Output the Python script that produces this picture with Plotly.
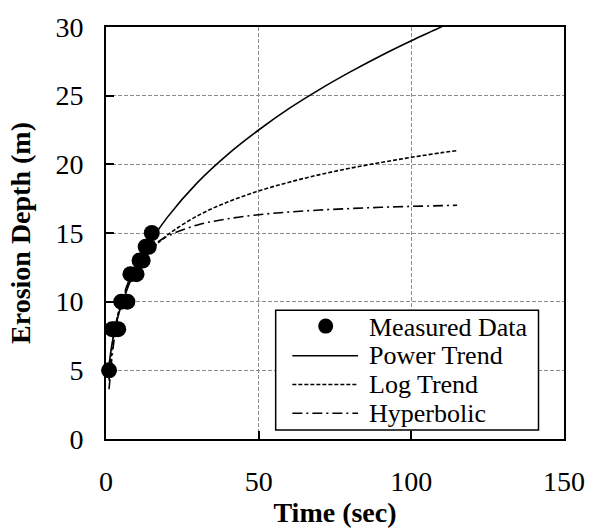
import plotly.graph_objects as go

# Measured data
meas_t = [1, 2, 3, 4, 5, 7, 8, 10, 11, 12, 13, 14, 15]
meas_d = [5, 8, 8, 8, 10, 10, 12, 12, 13, 13, 14, 14, 15]

# Trend lines
trend_t = [1, 2, 3, 5, 10, 15, 20, 30, 40, 50, 60, 70, 80, 90, 100, 110, 115]
power_d = [5.4, 6.96, 8.06, 9.72, 12.51, 14.51, 16.12, 18.69, 20.75, 22.5, 24.07,
           25.46, 26.73, 27.91, 29.0, 30.03, 30.6]
log_d = [4.25, 6.70, 8.13, 9.93, 12.38, 13.81, 14.83, 16.26, 17.27, 18.06, 18.70,
         19.25, 19.72, 20.13, 20.51, 20.85, 21.0]
hyp_d = [3.62, 6.01, 7.69, 9.93, 12.69, 13.99, 14.75, 15.59, 16.04, 16.33, 16.53,
         16.67, 16.78, 16.87, 16.94, 16.99, 17.02]

x_ticks = [0, 50, 100, 150]
y_ticks = [0, 5, 10, 15, 20, 25, 30]

names = ["Measured Data", "Power Trend", "Log Trend", "Hyperbolic"]
dashes = [None, "solid", "4px,2px", "10px,4px,2px,4px"]

FONT = "Liberation Serif, Times New Roman, serif"

fig = go.Figure()
fig.add_trace(go.Scatter(x=trend_t, y=power_d, mode="lines", name=names[1],
                         line=dict(color="black", width=1.6, dash=dashes[1], shape="spline"),
                         showlegend=False))
fig.add_trace(go.Scatter(x=trend_t, y=log_d, mode="lines", name=names[2],
                         line=dict(color="black", width=1.6, dash=dashes[2], shape="spline"),
                         showlegend=False))
fig.add_trace(go.Scatter(x=trend_t, y=hyp_d, mode="lines", name=names[3],
                         line=dict(color="black", width=1.6, dash=dashes[3], shape="spline"),
                         showlegend=False))
fig.add_trace(go.Scatter(x=meas_t, y=meas_d, mode="markers", name=names[0],
                         marker=dict(color="black", size=16, symbol="circle"),
                         showlegend=False, cliponaxis=False))

# Custom legend (layout elements in paper coordinates)
L, T, R, B = 106, 23, 24, 90
W, H = 597 - L - R, 529 - T - B


def px(xp):
    return (xp - L) / W


def py(yp):
    return (T + H - yp) / H


shapes = [dict(type="rect", xref="paper", yref="paper",
               x0=px(279), x1=px(547), y0=py(430), y1=py(309),
               line=dict(color="black", width=1.5), fillcolor="white", layer="above")]
annotations = []
rows = [326, 355, 384, 413]
for i, (nm, ry) in enumerate(zip(names, rows)):
    if i == 0:
        shapes.append(dict(type="circle", xref="paper", yref="paper",
                           xsizemode="pixel", ysizemode="pixel",
                           xanchor=px(330), yanchor=py(ry - 1),
                           x0=-7.5, x1=7.5, y0=-7.5, y1=7.5,
                           fillcolor="black", line=dict(color="black", width=0), layer="above"))
    else:
        shapes.append(dict(type="line", xref="paper", yref="paper",
                           x0=px(296), x1=px(363), y0=py(ry), y1=py(ry),
                           line=dict(color="black", width=1.6, dash=dashes[i]), layer="above"))
    annotations.append(dict(text=nm, xref="paper", yref="paper", x=px(372), y=py(ry),
                            xanchor="left", yanchor="middle", showarrow=False,
                            font=dict(family=FONT, size=26, color="black")))

fig.update_layout(
    width=597, height=529,
    margin=dict(l=L, r=R, t=T, b=B),
    paper_bgcolor="white", plot_bgcolor="white",
    font=dict(family=FONT, size=28, color="black"),
    shapes=shapes, annotations=annotations,
    showlegend=False,
)
axis_common = dict(
    showline=True, linecolor="black", linewidth=2, mirror=True,
    showgrid=True, gridcolor="#8c8c8c", gridwidth=1.4, griddash="4px,2px",
    zeroline=False, ticks="inside", ticklen=8, tickwidth=2, tickcolor="black",
    tickfont=dict(family=FONT, size=28, color="black"),
)
fig.update_xaxes(range=[0, 150], tickvals=x_ticks, ticktext=[str(v) for v in x_ticks],
                 ticklabelstandoff=16,
                 title=dict(text="<b>Time (sec)</b>", font=dict(family=FONT, size=28), standoff=0),
                 **axis_common)
fig.update_yaxes(range=[0, 30], tickvals=y_ticks, ticktext=[str(v) for v in y_ticks],
                 ticklabelstandoff=15,
                 title=dict(text="<b>Erosion Depth (m)</b>", font=dict(family=FONT, size=28), standoff=17),
                 **axis_common)

fig.write_html("out.html")
